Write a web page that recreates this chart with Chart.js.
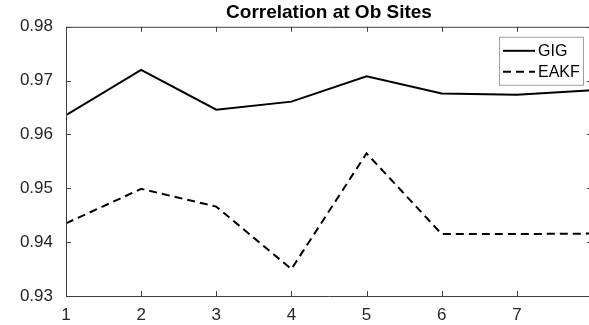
<!DOCTYPE html>
<html lang="en">
<head>
  <meta charset="UTF-8">
  <title>Correlation at Ob Sites</title>
  <script src="https://cdn.jsdelivr.net/npm/chart.js"></script>
  <style>
    html, body {
      margin: 0;
      padding: 0;
      background: #fff;
      overflow: hidden;
    }
    #wrap {
      width: 600px;
      height: 325px;
    }
  </style>
</head>
<body>
  <div id="wrap"><canvas id="chart" width="600" height="325"></canvas></div>

  <script>
    const sites = [1, 2, 3, 4, 5, 6, 7, 8];
    const gig = [0.9636, 0.9720, 0.9646, 0.9661, 0.9708, 0.9676, 0.9674, 0.9682];
    const eakf = [0.9435, 0.9499, 0.9466, 0.9350, 0.9565, 0.9415, 0.9415, 0.9416];
    const yTicks = [0.93, 0.94, 0.95, 0.96, 0.97, 0.98];

    const axisColor = '#404040';
    const textColor = '#262626';
    const font = "'Liberation Sans', Arial, sans-serif";

    // box around the plot with inward ticks, matlab style
    const boxTicks = {
      id: 'boxTicks',
      afterDatasetsDraw(chart) {
        const { ctx, chartArea: a, scales: { x, y } } = chart;
        const len = 5;
        ctx.save();
        ctx.strokeStyle = axisColor;
        ctx.lineWidth = 1;
        ctx.beginPath();
        ctx.rect(a.left + 0.5, a.top + 0.5, a.right - a.left, a.bottom - a.top);
        x.ticks.forEach(t => {
          const px = Math.round(x.getPixelForValue(t.value)) + 0.5;
          ctx.moveTo(px, a.bottom);
          ctx.lineTo(px, a.bottom - len);
          ctx.moveTo(px, a.top);
          ctx.lineTo(px, a.top + len);
        });
        y.ticks.forEach(t => {
          const py = Math.round(y.getPixelForValue(t.value)) + 0.5;
          ctx.moveTo(a.left, py);
          ctx.lineTo(a.left + len, py);
          ctx.moveTo(a.right, py);
          ctx.lineTo(a.right - len, py);
        });
        ctx.stroke();
        ctx.restore();
      }
    };

    // legend box inside the top right corner
    const insideLegend = {
      id: 'insideLegend',
      afterDraw(chart) {
        const { ctx, chartArea: a } = chart;
        const w = 84, h = 48;
        const left = a.right - 9 - w;
        const top = a.top + 10;
        ctx.save();
        ctx.fillStyle = '#fff';
        ctx.fillRect(left, top, w, h);
        ctx.strokeStyle = '#a0a0a0';
        ctx.lineWidth = 1;
        ctx.strokeRect(left + 0.5, top + 0.5, w, h);
        ctx.font = '16px ' + font;
        ctx.textBaseline = 'middle';
        chart.data.datasets.forEach((ds, i) => {
          const cy = top + 14 + i * 21;
          ctx.strokeStyle = ds.borderColor;
          ctx.lineWidth = ds.borderWidth;
          ctx.setLineDash(ds.borderDash || []);
          ctx.beginPath();
          ctx.moveTo(left + 4, cy);
          ctx.lineTo(left + 36, cy);
          ctx.stroke();
          ctx.setLineDash([]);
          ctx.fillStyle = '#000';
          ctx.fillText(ds.label, left + 39, cy + 1);
        });
        ctx.restore();
      }
    };

    new Chart(document.getElementById('chart'), {
      type: 'line',
      data: {
        datasets: [
          {
            label: 'GIG',
            data: sites.map((s, i) => ({ x: s, y: gig[i] })),
            borderColor: '#000',
            borderWidth: 2,
            pointRadius: 0,
            tension: 0
          },
          {
            label: 'EAKF',
            data: sites.map((s, i) => ({ x: s, y: eakf[i] })),
            borderColor: '#000',
            borderWidth: 2,
            borderDash: [8, 5],
            pointRadius: 0,
            tension: 0
          }
        ]
      },
      options: {
        responsive: false,
        animation: false,
        layout: { padding: { left: 0, right: 8, top: 0, bottom: 0 } },
        plugins: {
          legend: { display: false },
          tooltip: { enabled: false },
          title: {
            display: true,
            text: 'Correlation at Ob Sites',
            fullSize: false,
            color: '#000',
            font: { family: font, size: 19, weight: 'bold' },
            padding: { top: 1, bottom: 3 }
          }
        },
        scales: {
          x: {
            type: 'linear',
            min: 1,
            max: 8,
            grid: { display: false },
            border: { display: false },
            ticks: {
              stepSize: 1,
              color: textColor,
              padding: 1,
              font: { family: font, size: 17 },
              // the last site sits on the window edge, its label falls outside
              callback: v => (v === sites[sites.length - 1] ? '' : v)
            },
            afterFit(scale) { scale.height = 29; }
          },
          y: {
            min: yTicks[0],
            max: yTicks[yTicks.length - 1],
            grid: { display: false },
            border: { display: false },
            afterBuildTicks(scale) {
              scale.ticks = yTicks.map(v => ({ value: v }));
            },
            ticks: {
              color: textColor,
              padding: 5,
              font: { family: font, size: 17 },
              callback: v => v.toFixed(2)
            },
            afterFit(scale) { scale.width = 66; }
          }
        }
      },
      plugins: [boxTicks, insideLegend]
    });
  </script>
</body>
</html>
